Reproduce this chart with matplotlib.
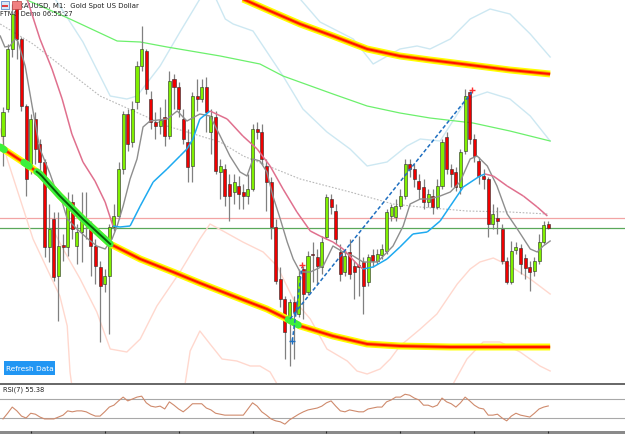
import numpy as np
import matplotlib
matplotlib.use('Agg')
import matplotlib.pyplot as plt
from matplotlib.collections import LineCollection
from matplotlib.patches import Rectangle

# ---- M1 candles (price units, bar index = position) ----
opens = [263, 290, 350, 395, 360, 293, 232, 280, 255, 237,
         152, 180, 123, 154, 152, 197, 153, 167, 178, 170,
         153, 132, 115, 123, 172, 183, 230, 285, 257, 297,
         333, 348, 300, 277, 273, 282, 263, 320, 312, 280,
         257, 233, 303, 300, 312, 267, 282, 227, 230, 215,
         207, 213, 207, 203, 210, 270, 267, 233, 217, 172,
         120, 100, 80, 97, 85, 130, 107, 145, 142, 132,
         162, 200, 188, 147, 127, 147, 133, 134, 137, 117,
         144, 138, 144, 148, 183, 182, 193, 203, 235, 230,
         218, 212, 197, 203, 192, 213, 262, 230, 227, 212,
         248, 307, 260, 238, 223, 220, 175, 181, 170, 138,
         117, 149, 151, 141, 132, 128, 138, 157, 175]
closes = [287, 350, 385, 360, 293, 220, 280, 250, 237, 152,
          170, 122, 153, 152, 197, 170, 167, 178, 176, 153,
          133, 113, 123, 172, 183, 230, 285, 255, 290, 333,
          350, 310, 277, 273, 279, 263, 318, 312, 290, 260,
          232, 303, 300, 312, 287, 283, 228, 233, 203, 203,
          217, 205, 203, 210, 270, 267, 240, 217, 172, 118,
          100, 67, 97, 87, 123, 105, 143, 144, 133, 157,
          202, 192, 160, 125, 143, 125, 127, 132, 113, 142,
          138, 145, 150, 187, 192, 193, 203, 235, 230, 220,
          210, 197, 205, 192, 213, 257, 230, 225, 212, 247,
          303, 260, 243, 223, 220, 175, 185, 178, 138, 117,
          148, 152, 135, 131, 127, 138, 157, 174, 171]
highs = [292, 355, 395, 400, 362, 295, 285, 287, 260, 240,
         195, 187, 187, 165, 207, 205, 175, 207, 207, 178,
         160, 138, 130, 175, 195, 237, 288, 290, 298, 338,
         373, 350, 308, 287, 292, 300, 328, 325, 317, 290,
         270, 307, 320, 320, 322, 290, 288, 240, 235, 225,
         225, 223, 215, 225, 275, 277, 275, 240, 222, 180,
         132, 103, 100, 103, 130, 133, 148, 157, 150, 163,
         205, 205, 195, 155, 150, 160, 138, 163, 142, 145,
         150, 150, 155, 190, 195, 200, 210, 240, 240, 235,
         225, 220, 210, 210, 220, 260, 267, 235, 232, 250,
         310, 308, 265, 242, 230, 222, 195, 192, 175, 142,
         158, 157, 155, 145, 138, 142, 165, 178, 178]
lows = [233, 287, 342, 340, 288, 203, 225, 235, 225, 142,
        137, 118, 78, 138, 143, 160, 135, 137, 160, 123,
        115, 57, 107, 65, 168, 180, 225, 248, 252, 290,
        328, 305, 270, 260, 265, 253, 260, 290, 282, 255,
        217, 217, 288, 297, 267, 245, 225, 200, 193, 178,
        195, 190, 190, 195, 208, 260, 235, 188, 160, 115,
        92, 40, 33, 40, 82, 80, 104, 117, 115, 125,
        160, 185, 155, 118, 123, 120, 100, 103, 85, 113,
        132, 135, 140, 145, 178, 178, 190, 200, 222, 212,
        200, 190, 192, 185, 190, 210, 225, 212, 208, 205,
        245, 255, 237, 215, 210, 162, 170, 165, 135, 115,
        115, 145, 125, 120, 108, 123, 135, 155, 170]

rsi = [28, 40, 53, 45, 34, 30, 40, 38, 32, 28,
       28, 28, 32, 36, 45, 43, 45, 45, 43, 38,
       34, 34, 43, 53, 57, 66, 74, 66, 70, 74,
       76, 62, 55, 53, 55, 49, 64, 57, 49, 43,
       51, 60, 60, 60, 51, 47, 40, 38, 36, 36,
       36, 36, 36, 49, 62, 55, 43, 36, 28, 24,
       22, 17, 26, 32, 38, 43, 47, 49, 51, 55,
       62, 66, 55, 45, 43, 47, 45, 43, 43, 49,
       51, 53, 53, 64, 68, 74, 74, 80, 78, 72,
       68, 57, 57, 53, 57, 72, 64, 60, 53, 62,
       74, 66, 57, 51, 49, 36, 36, 38, 30, 24,
       34, 40, 36, 34, 32, 40, 49, 53, 55.38]
rsi_levels = [70, 30]

# ---- indicator lines (bar index, price) ----
lime_idx = [3.7, 14.5, 24.7, 29.7, 35.5, 47.0, 55.6, 60.6, 71.4, 78.8, 85.9, 92.4, 101.7, 109.7, 118.4]
lime_val = [402, 380, 358, 357, 352, 343, 335, 323, 305, 293, 286, 281, 276, 268, 258]

slow_idx = [-0.6, 6.5, 21.0, 35.5, 47.0, 52.0, 64.3, 75.1, 84.4, 90.3, 100.4, 109.7, 117.8]
slow_val = [375, 355, 303, 273, 257, 243, 220, 207, 195, 192, 188, 187, 185]

fast_idx = [-0.6, 0.4, 1.5, 2.6, 3.2, 4.8, 6.3, 8.0, 10.2, 11.7, 12.8, 13.9, 16.0, 18.4, 20.3,
            22.1, 23.6, 24.7, 26.0, 27.5, 29.0, 30.3, 31.8, 35.5, 37.7, 39.8, 42.6, 44.8, 47.0,
            49.1, 51.3, 52.8, 54.1, 55.6, 57.1, 58.4, 60.0, 61.5, 62.8, 64.3, 66.5, 69.3, 71.4,
            73.6, 75.8, 77.9, 81.0, 82.3, 84.4, 86.6, 88.1, 90.3, 92.4, 94.6, 96.8, 98.9, 101.1,
            102.6, 104.8, 106.9, 109.1, 111.3, 114.1, 115.6, 116.9, 118.4]
fast_val = [363, 352, 353, 360, 358, 333, 293, 250, 225, 205, 197, 180, 170, 160, 153,
            150, 160, 173, 193, 220, 240, 272, 278, 280, 288, 278, 285, 283, 263,
            243, 227, 223, 240, 238, 227, 203, 180, 157, 140, 127, 127, 133, 153,
            147, 143, 137, 137, 143, 153, 173, 195, 200, 200, 203, 207, 217, 240,
            243, 233, 213, 185, 170, 150, 147, 153, 158]

trend_idx = [5.2, 8.0, 10.6, 12.8, 14.9, 17.3, 19.9, 22.1, 23.8, 25.3, 27.5, 29.7, 32.5, 35.5,
             38.3, 39.8, 41.1, 42.6, 44.8, 48.5, 51.9, 55.0, 57.8, 60.6, 63.6, 66.5, 68.6, 71.4,
             73.6, 76.6, 77.9, 80.1, 83.1, 85.9, 88.7, 91.8, 94.6, 96.8, 99.6, 103.2, 104.3,
             106.1, 109.1, 112.6, 115.6, 117.8]
trend_val = [400, 360, 330, 300, 265, 237, 218, 197, 173, 172, 173, 193, 217, 230,
             243, 250, 260, 280, 288, 280, 263, 250, 233, 210, 187, 168, 163, 157,
             150, 135, 130, 132, 140, 152, 165, 167, 178, 193, 212, 223, 225,
             223, 213, 203, 192, 183]
trend_up = [0] * 8 + [1] * 10 + [0] * 12 + [1] * 10 + [0] * 6

env_up_idx = [49.1, 51.9, 57.8, 64.3, 71.4, 78.8, 85.9, 92.4, 101.1, 109.7, 118.4]
env_up_val = [405, 400, 388, 375, 363, 350, 343, 339, 334, 329, 325]
env_dn_idx = [-0.6, 5.0, 8.0, 12.3, 17.3, 23.2, 29.7, 36.8, 42.6, 49.8, 57.1, 61.5, 64.3,
              71.4, 78.8, 85.9, 96.8, 111.3, 118.4]
env_dn_val = [252, 235, 225, 203, 180, 155, 140, 127, 116, 103, 90, 80, 73,
              63, 55, 53, 52, 52, 52]
signal_zones = [(-0.6, 0.3), (4.5, 5.7), (7.3, 23.2), (61.7, 63.9)]

bb_a_idx = [11.3, 17.3, 23.2, 26.8, 29.0, 34.0, 38.3, 42.6, 45.5, 48.1, 49.8, 54.1, 60.6,
            64.9, 70.1, 75.1, 78.8, 83.1, 87.4, 90.3, 94.6, 100.4, 104.8, 109.7, 114.1, 118.4]
bb_a_val = [400, 357, 303, 300, 303, 333, 367, 400, 406, 380, 375, 368, 323,
            290, 267, 250, 233, 237, 253, 260, 258, 300, 307, 300, 283, 258]
bb_b_idx = [62.1, 64.3, 68.6, 75.8, 80.1, 85.9, 89.6, 92.4, 96.8, 101.1, 105.4, 109.7, 114.1, 118.4]
bb_b_val = [408, 400, 377, 360, 335, 350, 353, 350, 360, 380, 390, 385, 365, 342]
bb_c_idx = [-0.6, 0.9, 3.7, 6.5, 12.3, 13.9, 14.5, 15.0]
bb_c_val = [270, 240, 200, 160, 103, 73, 27, 10]
bb_d_idx = [11.3, 13.0, 16.7, 20.3, 23.2, 26.8, 29.7, 33.3, 38.3, 42.6, 44.8, 47.6, 51.9,
            56.3, 59.3, 62.8, 66.5, 70.1, 74.5, 76.6, 78.8, 81.6, 83.8, 85.9, 90.3, 93.9,
            98.3, 101.1, 103.2, 106.1, 109.7, 114.1, 118.4]
bb_d_val = [165, 150, 120, 87, 50, 47, 60, 93, 127, 160, 175, 168, 157,
            147, 133, 100, 80, 50, 38, 28, 25, 30, 40, 53, 70, 85,
            115, 130, 137, 141, 133, 120, 105]
bb_e_idx = [39.4, 40.5, 42.6, 44.8, 47.4, 50.6, 53.5, 55.6, 57.8, 59.3, np.nan,
            97.4, 100.4, 103.9, 107.6, 111.9, 116.2, 118.4]
bb_e_val = [15, 48, 68, 55, 40, 38, 33, 33, 27, 15, np.nan,
            15, 40, 57, 57, 47, 33, 28]

level_pink = 181
level_green = 171
trendline_long = [(62.1, 80), (101.5, 307)]
trendline_short = [(62.6, 58), (64.7, 132)]
time_ticks = [6, 22, 38, 54, 70, 86, 102, 118]

W, H = 625.0, 435.0
fig = plt.figure(figsize=(W / 100, H / 100), dpi=100)
fig.patch.set_facecolor('white')

ax = fig.add_axes([0, 51 / H, 1, 384 / H])
ax.set_xlim(-0.65, 134.6)
ax.set_ylim(16, 400)
ax.axis('off')

ax.axhline(level_pink, color='#f2a4a4', lw=0.9, zorder=1)
ax.axhline(level_green, color='#5aa85a', lw=0.9, zorder=1)

# bands
for xs, ys, col in [(bb_a_idx, bb_a_val, '#cde8f2'), (bb_b_idx, bb_b_val, '#cde8f2'),
                    (bb_c_idx, bb_c_val, '#ffd8ce'), (bb_d_idx, bb_d_val, '#ffd8ce'),
                    (bb_e_idx, bb_e_val, '#ffd8ce')]:
    ax.plot(xs, ys, color=col, lw=1.0, zorder=2)

ax.plot(lime_idx, lime_val, color='#6cf06c', lw=0.9, zorder=2)
ax.plot(slow_idx, slow_val, color='#b8b8b8', lw=0.8, ls=(0, (1.5, 1.5)), zorder=2)

# header texts sit under the candles, like on the terminal
ax.text(19 / W, 1 - 6 / H, 'XAUUSD, M1:  Gold Spot US Dollar', transform=fig.transFigure,
        fontsize=5, color='#202020', va='center', ha='left', zorder=2.5)
ax.text(0, 1 - 14 / H, 'FTMO Demo 06:55:27', transform=fig.transFigure,
        fontsize=4.8, color='#202020', va='center', ha='left', zorder=2.5)

# candles
bars = np.arange(len(closes))
o = np.array(opens, float)
c = np.array(closes, float)
up = c >= o
ax.vlines(bars, lows, highs, color='#808080', lw=0.9, zorder=3)
body_lo = np.minimum(o, c)
body_h = np.maximum(np.abs(c - o), 1.0)
ax.bar(bars[up], body_h[up], bottom=body_lo[up], width=0.66, color='#80f000',
       edgecolor='#2a2a2a', linewidth=0.4, zorder=4)
ax.bar(bars[~up], body_h[~up], bottom=body_lo[~up], width=0.66, color='#f00000',
       edgecolor='#2a2a2a', linewidth=0.4, zorder=4)

# moving averages
ax.plot(fast_idx, fast_val, color='#8e8e8e', lw=1.0, zorder=5)
pts = np.column_stack([trend_idx, trend_val])
segs = np.stack([pts[:-1], pts[1:]], axis=1)
cols = ['#1eaaf0' if u else '#e0708e' for u in trend_up[:-1]]
ax.add_collection(LineCollection(segs, colors=cols, linewidths=1.1, zorder=5))

# envelope curves
for xs, ys in [(env_up_idx, env_up_val), (env_dn_idx, env_dn_val)]:
    ax.plot(xs, ys, color='#ffff00', lw=5.0, solid_capstyle='butt', zorder=6)
    ax.plot(xs, ys, color='#ff8c00', lw=2.8, solid_capstyle='butt', zorder=6)
    ax.plot(xs, ys, color='#ff1000', lw=1.4, solid_capstyle='butt', zorder=6)
for a, b in signal_zones:
    gx = np.linspace(a, b, 30)
    gy = np.interp(gx, env_dn_idx, env_dn_val)
    ax.plot(gx, gy, color='#3cf03c', lw=5.0, solid_capstyle='round', zorder=7)
    if b - a > 5:
        ax.plot(gx, gy, color='#0b5a0b', lw=1.4, zorder=7)

# trend lines
(x0, y0), (x1, y1) = trendline_long
ax.plot([x0, x1], [y0, y1], color='#1f6fc0', lw=1.1, ls=(0, (2.5, 1.5)), zorder=8)
(x2, y2), (x3, y3) = trendline_short
ax.plot([x2, x3], [y2, y3], color='#1f6fc0', lw=1.1, ls=(0, (2.5, 1.5)), zorder=8)
ax.plot([x3, x1], [y3 + 2, y1 + 2], ls='none', marker='+', ms=4, mew=1, color='#ff3030', zorder=9)
ax.plot([x2], [y2], ls='none', marker='+', ms=4, mew=1, color='#1f6fc0', zorder=9)

# header icons
fig.add_artist(Rectangle((1 / W, 1 - 10 / H), 8 / W, 8 / H, transform=fig.transFigure,
                         facecolor='#d8e8f8', edgecolor='#4a78c0', lw=0.5, zorder=10))
fig.add_artist(Rectangle((2 / W, 1 - 8 / H), 6 / W, 2 / H, transform=fig.transFigure,
                         facecolor='#e04040', lw=0, zorder=11))
fig.add_artist(Rectangle((12 / W, 1 - 10 / H), 9 / W, 8 / H, transform=fig.transFigure,
                         facecolor='#f08080', edgecolor='#c04040', lw=0.5, zorder=10))

# refresh button
fig.add_artist(Rectangle((4 / W, 1 - 376 / H), 51 / W, 14 / H, transform=fig.transFigure,
                         facecolor='#2196f3', edgecolor='none', zorder=10))
fig.text(29.5 / W, 1 - 369 / H, 'Refresh Data', fontsize=5.3, color='white',
         ha='center', va='center', zorder=11)

# pane separator
fig.add_artist(Rectangle((0, 49 / H), 1, 2.4 / H, transform=fig.transFigure,
                         facecolor='#6a6a6a', edgecolor='none'))

# RSI pane
ax2 = fig.add_axes([0, 3 / H, 1, 46 / H])
ax2.set_xlim(-0.65, 134.6)
ax2.set_ylim(2.6, 99.5)
ax2.axis('off')
for lv in rsi_levels:
    ax2.axhline(lv, color='#a8a8a8', lw=0.8)
ax2.plot(bars, rsi, color='#cf8a6c', lw=0.8)
ax2.text(0.0, 91, 'RSI(7) %.2f' % rsi[-1], fontsize=4.8, color='#202020', va='center', ha='left')

# time scale strip
ax3 = fig.add_axes([0, 0, 1, 3 / H])
ax3.set_xlim(-0.65, 134.6)
ax3.set_ylim(0, 1)
ax3.set_facecolor('#8a8a8a')
ax3.set_xticks([])
ax3.set_yticks([])
for s in ax3.spines.values():
    s.set_visible(False)
ax3.vlines(time_ticks, 0.2, 1, color='#2a2a2a', lw=0.8)

plt.savefig('out.png', dpi=100)
